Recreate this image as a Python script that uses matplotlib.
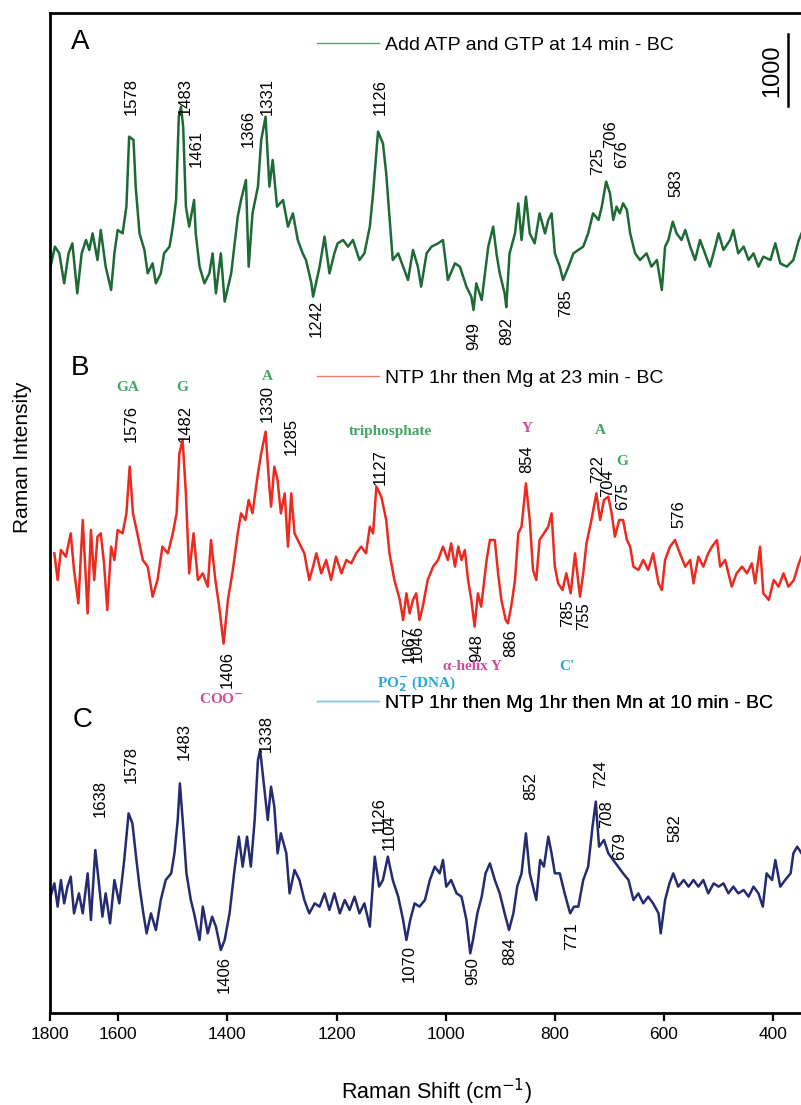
import numpy as np
import matplotlib.pyplot as plt
from matplotlib.lines import Line2D

plt.rcParams['font.family'] = ['Liberation Sans', 'DejaVu Sans']

# Raman spectra: shift (cm-1) and intensity (counts above each trace's own baseline)
a_shift = [1724, 1716, 1708, 1699, 1691, 1684, 1675, 1667, 1659, 1653,
           1647, 1638, 1632, 1623, 1613, 1607, 1601, 1592, 1585, 1580,
           1572, 1568, 1561, 1552, 1546, 1537, 1531, 1522, 1516, 1506,
           1500, 1494, 1489, 1485, 1481, 1476, 1470, 1461, 1458, 1451,
           1442, 1433, 1427, 1421, 1412, 1405, 1393, 1381, 1375, 1366,
           1361, 1354, 1344, 1338, 1330, 1323, 1317, 1309, 1298, 1289,
           1280, 1271, 1262, 1256, 1246, 1243, 1231, 1222, 1213, 1204,
           1198, 1188, 1179, 1170, 1158, 1149, 1139, 1133, 1124, 1115,
           1109, 1103, 1097, 1087, 1078, 1069, 1060, 1051, 1045, 1035,
           1026, 1014, 1005, 996, 983, 974, 962, 953, 949, 944,
           934, 922, 913, 907, 901, 892, 889, 883, 873, 867,
           861, 853, 846, 837, 828, 818, 812, 806, 800, 791,
           785, 775, 766, 757, 748, 739, 730, 720, 714, 706,
           699, 693, 687, 681, 675, 668, 662, 653, 644, 632,
           623, 613, 604, 598, 592, 584, 577, 568, 561, 552,
           543, 534, 525, 516, 506, 500, 491, 479, 473, 464,
           454, 445, 436, 427, 418, 405, 396, 387, 375, 363,
           353, 348]
a_counts = [467, 747, 653, 233, 653, 793, 93, 653, 840, 700,
            933, 560, 980, 467, 140, 653, 980, 933, 1307, 2287,
            2240, 1587, 933, 700, 373, 513, 233, 373, 653, 747,
            1027, 1400, 2567, 2707, 2427, 1307, 1027, 1400, 933, 467,
            233, 373, 653, 93, 653, -23, 373, 1167, 1400, 1680,
            467, 1213, 1587, 2240, 2567, 1587, 1960, 1307, 1400, 1027,
            1213, 840, 653, 560, 233, 47, 467, 887, 373, 653,
            793, 840, 747, 840, 560, 653, 1027, 1493, 2357, 2193,
            1773, 1167, 560, 653, 467, 280, 700, 467, 187, 653,
            747, 793, 840, 280, 513, 467, 187, 47, -140, 233,
            0, 747, 1027, 653, 373, 93, -100, 653, 933, 1353,
            840, 1447, 933, 793, 1213, 933, 1120, 1213, 653, 467,
            280, 467, 653, 700, 747, 933, 1213, 1120, 1307, 1657,
            1493, 1120, 1307, 1213, 1353, 1260, 933, 653, 560, 653,
            467, 560, 140, 747, 840, 1097, 933, 840, 980, 747,
            560, 840, 653, 467, 747, 933, 700, 840, 980, 653,
            747, 560, 653, 467, 607, 560, 793, 513, 467, 560,
            840, 933]

b_shift = [1717, 1711, 1705, 1696, 1687, 1681, 1673, 1665, 1656, 1650,
           1644, 1638, 1632, 1626, 1620, 1613, 1607, 1601, 1592, 1585,
           1579, 1573, 1565, 1555, 1546, 1537, 1528, 1519, 1509, 1500,
           1493, 1488, 1482, 1476, 1470, 1462, 1454, 1445, 1436, 1430,
           1422, 1415, 1407, 1399, 1390, 1381, 1375, 1367, 1361, 1354,
           1344, 1338, 1330, 1324, 1320, 1314, 1308, 1302, 1295, 1289,
           1283, 1277, 1268, 1259, 1250, 1243, 1237, 1228, 1219, 1210,
           1201, 1191, 1182, 1173, 1164, 1155, 1146, 1139, 1133, 1127,
           1118, 1109, 1103, 1094, 1084, 1078, 1072, 1066, 1060, 1054,
           1048, 1042, 1033, 1023, 1014,
           1005, 996, 990, 983, 977, 971, 965, 959, 953, 947,
           941, 935, 925, 919, 910, 904, 898, 890, 886, 880,
           873, 867, 861, 853, 846, 840, 834, 828, 820, 812,
           806, 800, 794, 786, 779, 771, 763, 754, 748, 742,
           733, 724, 717, 710, 702, 696, 690, 682, 675, 668,
           662, 656, 647, 638, 629, 620, 610, 604, 598, 589,
           580, 571, 561, 552, 546, 537, 528, 519, 512, 503,
           497, 488, 476, 467, 457, 448, 439, 433, 424, 418,
           408, 399, 390, 381, 372, 362, 353, 348]
b_counts = [1213, 840, 1260, 1167, 1493, 980, 513, 1680, 373, 1540,
            840, 1447, 1493, 1073, 420, 1307, 1120, 1540, 1493, 1773,
            2427, 1773, 1493, 1120, 1027, 607, 840, 1307, 1213, 1493,
            1773, 2613, 2800, 2053, 933, 1493, 840, 933, 747, 1400,
            840, 467, -50, 560, 980, 1493, 1773, 1680, 1960, 1773,
            2333, 2613, 2917, 2240, 1867, 2427, 2240, 1773, 2053, 1307,
            2053, 1493, 1353, 1213, 840, 1027, 1213, 933, 1120, 840,
            1167, 933, 1120, 1073, 1213, 1307, 1213, 1587, 1493, 2147,
            2007, 1680, 1213, 840, 560, 280, 653, 373, 560, 653,
            280, 467, 840, 1027, 1120,
            1307, 1120, 1353, 1027, 1307, 1120, 1260, 840, 560, 187,
            653, 467, 1120, 1400, 1400, 933, 560, 280, 233, 467,
            840, 1493, 1587, 2193, 1680, 980, 840, 1400, 1493, 1587,
            1773, 1027, 793, 700, 933, 653, 1213, 607, 933, 1353,
            1680, 2053, 1680, 1960, 2007, 1773, 1447, 1680, 1680, 1400,
            1307, 1027, 980, 1120, 980, 1213, 793, 700, 1120, 1307,
            1400, 1213, 1027, 1120, 793, 1167, 1027, 1213, 1307, 1400,
            1027, 1120, 747, 933, 1027, 933, 1073, 793, 1307, 653,
            560, 840, 747, 933, 747, 840, 1073, 1167]

c_shift = [1724, 1717, 1711, 1705, 1699, 1693, 1687, 1681, 1672, 1665,
           1656, 1650, 1642, 1636, 1629, 1623, 1615, 1607, 1598, 1589,
           1581, 1574, 1568, 1561, 1554, 1548, 1540, 1531, 1522, 1513,
           1503, 1497, 1491, 1487, 1481, 1475, 1467, 1461, 1451, 1445,
           1436, 1428, 1421, 1412, 1405, 1396, 1387, 1379, 1372, 1364,
           1357, 1350, 1344, 1340, 1334, 1326, 1320, 1314, 1308, 1302,
           1292, 1286, 1277, 1268, 1259, 1250, 1240, 1231, 1222, 1213,
           1204, 1194, 1185, 1176, 1167, 1158, 1149, 1139, 1130, 1122,
           1115, 1106, 1097, 1087, 1078, 1072, 1065, 1057, 1048, 1038,
           1029, 1020, 1011,
           1005, 999, 990, 980, 971, 962, 955, 950, 942, 934,
           927, 919, 910, 901, 892, 884, 876, 869, 861, 853,
           846, 840, 834, 827, 820, 812, 806, 800, 791, 782,
           772, 765, 757, 748, 739, 731, 725, 719, 710, 702,
           693, 684, 675, 665, 656, 647, 638, 629, 620, 610,
           606, 598, 590, 583, 574, 564, 555, 546, 537, 528,
           519, 509, 500, 491, 482, 473, 464, 454, 445, 436,
           427, 419, 412, 402, 396, 387, 378, 368, 363, 356, 348]
c_counts = [887, 1073, 747, 1120, 793, 1027, 1167, 653, 933, 653,
            1213, 560, 1540, 1120, 607, 933, 513, 1120, 793, 1400,
            2053, 1913, 1493, 1027, 653, 373, 653, 420, 840, 1120,
            1213, 1493, 1960, 2473, 1867, 1213, 840, 653, 280, 747,
            373, 607, 467, 140, 280, 653, 1260, 1727, 1307, 1727,
            1307, 1960, 2800, 2940, 2520, 1960, 2427, 2147, 1493, 1773,
            1493, 933, 1260, 1120, 840, 653, 793, 747, 933, 700,
            933, 653, 840, 700, 887, 653, 793, 467, 1447, 1027,
            1120, 1447, 1120, 887, 560, 280, 560, 793, 747, 840,
            1120, 1307, 1213,
            1400, 1027, 1120, 933, 887, 560, 93, 280, 653, 887,
            1213, 1353, 1120, 933, 653, 420, 653, 1027, 1213, 1773,
            1213, 1027, 840, 1400, 1307, 1727, 1493, 1213, 1213, 933,
            653, 747, 747, 1120, 1307, 1867, 2217, 1587, 1680, 1493,
            1400, 1307, 1213, 1120, 840, 933, 793, 887, 793, 653,
            373, 840, 1073, 1213, 1027, 1120, 1027, 1120, 1027, 1120,
            933, 1073, 1027, 1073, 933, 1027, 933, 980, 887, 1027,
            933, 747, 1213, 1120, 1400, 1027, 1120, 1213, 1493, 1587, 1493]

# vertical stacking of the three spectra (counts)
offset_a = 9982
offset_b = 5222
offset_c = 742

legend_a = 'Add ATP and GTP at 14 min - BC'
legend_b = 'NTP 1hr then Mg at 23 min - BC'
legend_c = 'NTP 1hr then Mg 1hr then Mn at 10 min - BC'

# peak labels: (text, shift position, bottom of text in counts)
peaks_a = [('1578', 1576, 12572), ('1483', 1477, 12572), ('1461', 1457, 11844),
           ('1366', 1361, 12124), ('1331', 1327, 12572), ('1126', 1119, 12572),
           ('725', 721, 11732), ('706', 697, 12110), ('676', 677, 11830),
           ('583', 578, 11424), ('1242', 1237, 9464), ('949', 949, 9282),
           ('892', 888, 9352), ('785', 780, 9744)]
peaks_b = [('1576', 1576, 7994), ('1482', 1477, 7994), ('1330', 1327, 8274),
           ('1285', 1283, 7812), ('1127', 1119, 7392), ('854', 851, 7560),
           ('722', 721, 7420), ('704', 703, 7224), ('675', 675, 7042),
           ('576', 572, 6790), ('1406', 1400, 4550), ('1067', 1066, 4900),
           ('1046', 1053, 4914), ('948', 943, 4914), ('886', 881, 4984),
           ('785', 776, 5404), ('755', 747, 5362)]
peaks_c = [('1638', 1633, 2744), ('1578', 1576, 3220), ('1483', 1479, 3542),
           ('1338', 1328, 3654), ('1126', 1121, 2520), ('1104', 1103, 2282),
           ('852', 844, 2982), ('724', 717, 3150), ('708', 705, 2590),
           ('679', 681, 2142), ('582', 580, 2394), ('1406', 1405, 280),
           ('1070', 1066, 434), ('950', 950, 392), ('884', 883, 672),
           ('771', 769, 882)]

# band assignments: (text, shift, centre in counts, colour)
green = '#3fa862'
magenta = '#cf4b9c'
cyan = '#2aa6dd'
assign = [('GA', 1582, 8750, green), ('G', 1483, 8750, green), ('A', 1327, 8904, green),
          ('triphosphate', 1101, 8134, green), ('Y', 851, 8176, magenta),
          ('A', 717, 8148, green), ('G', 677, 7714, green),
          ('COO$^{\\mathbf{-}}$', 1411, 4382, magenta), ('PO$_\\mathbf{2}^{\\mathbf{-}}$ (DNA)', 1053, 4606, cyan),
          ('\u03b1-helix Y', 950, 4844, magenta), ("C'", 778, 4858, cyan)]

fig = plt.figure(figsize=(8.01, 11.05), dpi=100)
ax = fig.add_axes([50 / 801, 92 / 1105, 751 / 801, 1000 / 1105])

col_a, col_b, col_c = '#1d6a35', '#ec2a20', '#252b70'
ax.plot(a_shift, np.array(a_counts) + offset_a, color=col_a, lw=1.8)
ax.plot(b_shift, np.array(b_counts) + offset_b, color=col_b, lw=1.8)
ax.plot(c_shift, np.array(c_counts) + offset_c, color=col_c, lw=1.8)

for peaks in (peaks_a, peaks_b, peaks_c):
    for txt, x, y in peaks:
        ax.text(x, y, txt, rotation=90, ha='center', va='bottom', fontsize=12)

for txt, x, y, c in assign:
    ax.text(x, y, txt, ha='center', va='center', fontsize=11, color=c,
            fontweight='bold', family=['Liberation Serif', 'DejaVu Serif'])

# legends
for lab, c, yf in [(legend_a, '#5f9e70', 0.968), (legend_b, '#f07a6a', 0.635), (legend_c, '#86c3ea', 0.31)]:
    h = Line2D([], [], color=c, lw=1.0)
    leg = ax.legend([h], [lab], loc='center left', bbox_to_anchor=(0.3555, yf),
                    frameon=False, fontsize=14, handlelength=3.2, handletextpad=0.3,
                    borderpad=0, borderaxespad=0)
    ax.add_artist(leg)

# panel letters
for letter, xf, yf in [('A', 0.040, 0.971), ('B', 0.040, 0.645), ('C', 0.043, 0.293)]:
    ax.text(xf, yf, letter, transform=ax.transAxes, ha='center', va='center', fontsize=20)

# intensity scale bar
ax.plot([372, 372], [12700, 13700], color='black', lw=1.8)
ax.text(402, 13188, '1000', rotation=90, ha='center', va='center', fontsize=17)

ax.set_xlim(1725, 349)
ax.set_ylim(0, 14000)
ax.set_xticks([1725, 1600, 1400, 1200, 1000, 800, 600, 400])
ax.set_xticklabels(['1800', '1600', '1400', '1200', '1000', '800', '600', '400'])
ax.set_yticks([])
ax.tick_params(axis='x', direction='out', length=6, width=1.6, labelsize=12.5, pad=4)
ax.spines['right'].set_visible(False)
for s in ('left', 'bottom', 'top'):
    ax.spines[s].set_linewidth(2)

ax.set_xlabel('Raman Shift (cm$^{-1}$)', fontsize=15.5)
ax.xaxis.set_label_coords(0.515, -0.064)
ax.set_ylabel('Raman Intensity', fontsize=15)
ax.yaxis.set_label_coords(-0.024, 0.556)

fig.savefig('out.png', dpi=100)
